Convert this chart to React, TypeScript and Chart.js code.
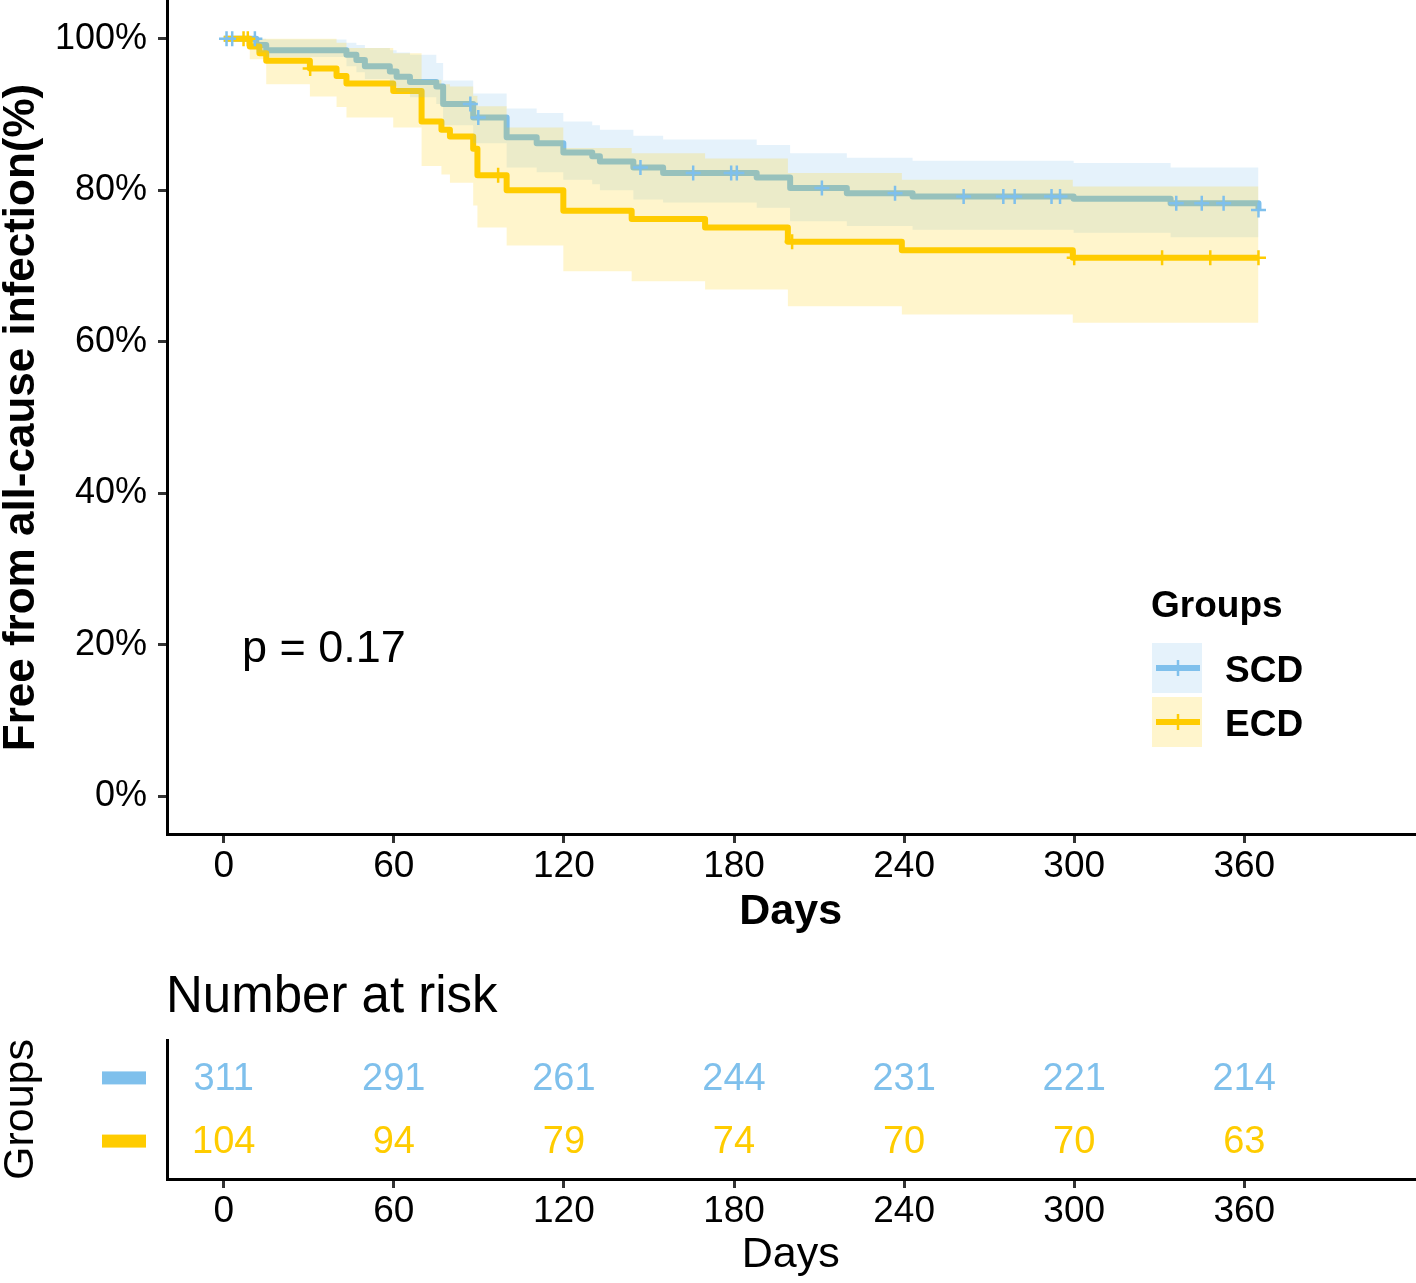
import React, { useEffect, useRef } from 'react';
import { Chart, registerables } from 'chart.js';

Chart.register(...registerables);

const FONT = "'Liberation Sans', Arial, Helvetica, sans-serif";
const BLUE = '#7FC0EC';
const YELLOW = '#FFCC00';
const BLUE_BAND = 'rgba(127,192,236,0.2)';
const YELLOW_BAND = 'rgba(255,204,0,0.2)';

// ---- axis ticks ----
const xTicks = [0, 60, 120, 180, 240, 300, 360];
const yTicks = [0, 20, 40, 60, 80, 100];

// ---- SCD Kaplan-Meier (days, % free) ----
const scdTimes = [0, 11.5, 15, 43.3, 46.8, 49.8, 58.6, 61, 65.7, 75, 77.4, 88, 99.8, 110.4, 119.8, 130, 132.7, 144.5, 155, 188, 199.8, 219.8, 243, 299.8, 334, 365];
const scdSurv = [100, 99.2, 98.5, 97.9, 97.2, 96.4, 95.7, 95.0, 94.3, 93.7, 91.4, 89.6, 87.0, 86.2, 85.0, 84.5, 83.8, 83.0, 82.3, 81.7, 80.3, 79.6, 79.2, 78.9, 78.3, 77.4];
const scdUpper = [100, 100, 99.9, 99.5, 99.2, 98.8, 98.5, 98.2, 97.9, 96.8, 94.5, 92.8, 90.8, 90.2, 89.1, 88.6, 88.0, 87.2, 86.7, 86.0, 84.9, 84.3, 83.9, 83.6, 83.0, 83.0];
const scdLower = [100, 98.2, 97.6, 96.4, 95.6, 94.7, 93.8, 93.0, 92.3, 91.4, 88.6, 86.2, 83.0, 82.4, 81.4, 80.8, 80.0, 78.8, 78.4, 77.7, 75.9, 75.3, 74.8, 74.4, 73.8, 73.8];
const scdCensor = [1, 3, 11, 87, 89.8, 147, 165.6, 179, 181, 211, 236.8, 261, 275, 279, 292, 295, 336, 345, 352.7, 365];

// ---- ECD Kaplan-Meier ----
const ecdTimes = [0, 9.2, 12.6, 15, 30.4, 39.8, 43.3, 59.8, 69.8, 76.8, 79.8, 88, 89.5, 99.8, 119.8, 143.9, 169.8, 199, 239.2, 299.5, 365];
const ecdSurv = [100, 99.0, 98.1, 97.1, 96.1, 95.1, 94.1, 93.1, 89.1, 88.0, 87.1, 85.5, 82.0, 80.0, 77.3, 76.2, 75.1, 73.2, 72.1, 71.1, 71.1];
const ecdUpper = [100, 100, 100, 100, 100, 99.5, 98.8, 98.1, 94.6, 94.0, 93.7, 92.5, 91.1, 88.3, 85.6, 84.9, 84.2, 82.3, 81.4, 80.5, 80.5];
const ecdLower = [100, 97.3, 97.3, 94.0, 92.4, 91.0, 89.6, 88.3, 83.2, 82.1, 81.0, 78.0, 75.1, 72.7, 69.3, 68.0, 66.9, 64.7, 63.6, 62.5, 62.5];
const ecdCensor = [7, 8.5, 30.5, 96.8, 200.5, 300, 331, 348, 365];

// ---- number at risk ----
const riskTimes = [0, 60, 120, 180, 240, 300, 360];
const riskSCD = [311, 291, 261, 244, 231, 221, 214];
const riskECD = [104, 94, 79, 74, 70, 70, 63];
const groupNames = ['SCD', 'ECD'];
const pValueText = 'p = 0.17';

function pts(times: number[], vals: number[]) {
  return times.map((t, i) => ({ x: t, y: vals[i] }));
}
function stepAt(times: number[], vals: number[], t: number) {
  let v = vals[0];
  for (let i = 0; i < times.length; i++) if (times[i] <= t) v = vals[i];
  return v;
}

function xAxis(height: number, bold: boolean, titlePadBottom: number) {
  return {
    type: 'linear',
    min: -20,
    max: 420,
    afterBuildTicks: (s: any) => { s.ticks = xTicks.map((v) => ({ value: v })); },
    afterFit: (s: any) => { s.height = height; s.paddingLeft = 0; s.paddingRight = 0; },
    grid: { display: true, drawOnChartArea: false, drawTicks: true, tickLength: 9, lineWidth: 3, tickWidth: 3, color: '#333', tickColor: '#333' },
    border: { display: true, color: '#000', width: 3 },
    ticks: { font: { size: 37, family: FONT, lineHeight: 1 }, color: '#000', padding: 5, maxRotation: 0, autoSkip: false },
    title: { display: true, text: 'Days', color: '#000', font: { size: 43, weight: bold ? 'bold' : 'normal', family: FONT, lineHeight: 1 }, padding: { top: 0, bottom: titlePadBottom } },
  };
}

const line = (label: string, data: any[], color: string, order: number) => ({
  type: 'line', label, data, stepped: true, borderColor: color, borderWidth: 6,
  borderJoinStyle: 'round', borderCapStyle: 'butt', pointRadius: 0, fill: false, order,
});
const bandEdge = (label: string, data: any[], fill: any, bg: string, order: number) => ({
  type: 'line', label, data, stepped: true, borderColor: 'rgba(0,0,0,0)', borderWidth: 0,
  pointRadius: 0, fill, backgroundColor: bg, order,
});
const censor = (label: string, times: number[], st: number[], sv: number[], color: string, order: number) => ({
  type: 'scatter', label, data: times.map((t) => ({ x: t, y: stepAt(st, sv, t) })),
  pointStyle: 'cross', pointRadius: 7.5, borderColor: color, borderWidth: 2.5, backgroundColor: color, order,
});

const overlayPlugin = {
  id: 'kmOverlay',
  afterDraw(chart: any) {
    const ctx = chart.ctx;
    ctx.save();
    // p-value
    ctx.fillStyle = '#000';
    ctx.font = `45px ${FONT}`;
    ctx.textAlign = 'left';
    ctx.textBaseline = 'alphabetic';
    ctx.fillText(pValueText, 242, 662);
    // legend
    ctx.font = `bold 37px ${FONT}`;
    ctx.fillText('Groups', 1151, 617);
    const keys = [
      { name: groupNames[0], color: BLUE, band: BLUE_BAND, top: 643 },
      { name: groupNames[1], color: YELLOW, band: YELLOW_BAND, top: 697 },
    ];
    keys.forEach((k) => {
      ctx.fillStyle = k.band;
      ctx.fillRect(1152, k.top, 50, 50);
      const cy = k.top + 25;
      ctx.strokeStyle = k.color;
      ctx.lineWidth = 6;
      ctx.beginPath();
      ctx.moveTo(1156, cy);
      ctx.lineTo(1200, cy);
      ctx.stroke();
      ctx.lineWidth = 2.5;
      ctx.beginPath();
      ctx.moveTo(1178, cy - 8);
      ctx.lineTo(1178, cy + 8);
      ctx.stroke();
      ctx.fillStyle = '#000';
      ctx.font = `bold 37px ${FONT}`;
      ctx.fillText(k.name, 1225, cy + 13.5);
    });
    ctx.restore();
  },
};

const riskPlugin = {
  id: 'riskTable',
  afterDraw(chart: any) {
    const ctx = chart.ctx;
    const xs = chart.scales.x;
    const ys = chart.scales.y;
    ctx.save();
    ctx.fillStyle = '#000';
    ctx.font = `51px ${FONT}`;
    ctx.textAlign = 'left';
    ctx.textBaseline = 'alphabetic';
    ctx.fillText('Number at risk', 166, 67);
    const rows = [
      { vals: riskSCD, color: BLUE, row: 2 },
      { vals: riskECD, color: YELLOW, row: 1 },
    ];
    rows.forEach((r) => {
      const py = ys.getPixelForValue(r.row);
      ctx.fillStyle = r.color;
      ctx.fillRect(102, py - 6.5, 44, 13);
      ctx.font = `38px ${FONT}`;
      ctx.textAlign = 'center';
      ctx.textBaseline = 'middle';
      r.vals.forEach((v, i) => {
        ctx.fillText(String(v), xs.getPixelForValue(riskTimes[i]), py + 1.5);
      });
    });
    ctx.restore();
  },
};

export default function App() {
  const ref1 = useRef<HTMLCanvasElement>(null);
  const ref2 = useRef<HTMLCanvasElement>(null);

  useEffect(() => {
    Chart.defaults.font.family = FONT;
    Chart.defaults.color = '#000';

    const c1 = new Chart(ref1.current as HTMLCanvasElement, {
      type: 'line',
      data: {
        datasets: [
          line('SCD', pts(scdTimes, scdSurv), BLUE, 10),
          line('ECD', pts(ecdTimes, ecdSurv), YELLOW, 9),
          bandEdge('SCD lower', pts(scdTimes, scdLower), false, BLUE_BAND, 8),
          bandEdge('SCD upper', pts(scdTimes, scdUpper), 2, BLUE_BAND, 7),
          bandEdge('ECD lower', pts(ecdTimes, ecdLower), false, YELLOW_BAND, 6),
          bandEdge('ECD upper', pts(ecdTimes, ecdUpper), 4, YELLOW_BAND, 5),
          censor('SCD censor', scdCensor, scdTimes, scdSurv, BLUE, 2),
          censor('ECD censor', ecdCensor, ecdTimes, ecdSurv, YELLOW, 1),
        ] as any,
      },
      options: {
        responsive: false,
        animation: false,
        events: [],
        layout: { autoPadding: false, padding: { top: 1, right: 1.6, bottom: 0, left: 0 } },
        plugins: { legend: { display: false }, tooltip: { enabled: false }, title: { display: false } },
        scales: {
          x: xAxis(111, true, 11.5) as any,
          y: {
            type: 'linear',
            min: -5,
            max: 105,
            afterBuildTicks: (s: any) => { s.ticks = yTicks.map((v) => ({ value: v })); },
            afterFit: (s: any) => { s.width = 167; s.paddingTop = 0; s.paddingBottom = 0; },
            grid: { display: true, drawOnChartArea: false, drawTicks: true, tickLength: 9, lineWidth: 3, tickWidth: 3, color: '#333', tickColor: '#333' },
            border: { display: true, color: '#000', width: 3 },
            ticks: { font: { size: 36, family: FONT, lineHeight: 1 }, color: '#000', padding: 11, callback: (v: any) => v + '%' },
            title: { display: true, text: 'Free from all-cause infection(%)', color: '#000', font: { size: 44, weight: 'bold', family: FONT, lineHeight: 1 }, padding: { top: 0, bottom: 0 } },
          } as any,
        },
      },
      plugins: [overlayPlugin],
    } as any);

    const c2 = new Chart(ref2.current as HTMLCanvasElement, {
      type: 'scatter',
      data: {
        datasets: [
          { label: 'SCD risk', data: riskTimes.map((t) => ({ x: t, y: 2 })), pointRadius: 0 },
          { label: 'ECD risk', data: riskTimes.map((t) => ({ x: t, y: 1 })), pointRadius: 0 },
        ],
      },
      options: {
        responsive: false,
        animation: false,
        events: [],
        layout: { autoPadding: false, padding: { top: 95, right: 1.6, bottom: 0, left: 0 } },
        plugins: { legend: { display: false }, tooltip: { enabled: false } },
        scales: {
          x: xAxis(104, false, 6.5) as any,
          y: {
            type: 'linear',
            min: 0.4,
            max: 2.6,
            afterBuildTicks: (s: any) => { s.ticks = []; },
            afterFit: (s: any) => { s.width = 167; s.paddingTop = 0; s.paddingBottom = 0; },
            grid: { display: false },
            border: { display: true, color: '#000', width: 3 },
            ticks: { display: false },
            title: { display: true, text: 'Groups', color: '#000', font: { size: 43, family: FONT, lineHeight: 1 }, padding: { top: 0, bottom: 0 } },
          } as any,
        },
      },
      plugins: [riskPlugin],
    } as any);

    return () => {
      c1.destroy();
      c2.destroy();
    };
  }, []);

  return (
    <div style={{ position: 'absolute', left: 0, top: 0, width: 1416, height: 1283, background: '#fff' }}>
      <canvas ref={ref1} width={1416} height={945} style={{ position: 'absolute', left: 0, top: 0 }} />
      <canvas ref={ref2} width={1416} height={338} style={{ position: 'absolute', left: 0, top: 945 }} />
    </div>
  );
}
